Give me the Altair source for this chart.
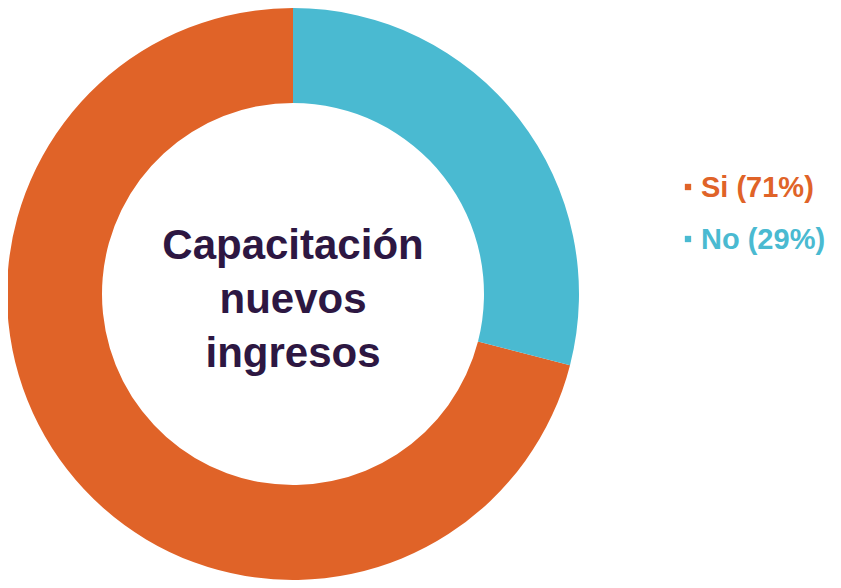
import altair as alt
import pandas as pd

categories = ["Si", "No"]
values = [71, 29]
colors = ["#E06328", "#4ABAD1"]
slice_order = [2, 1]  # "No" starts at 12 o'clock, clockwise
center_title = ["Capacitación", "nuevos", "ingresos"]

df = pd.DataFrame({"cat": categories, "value": values, "ord": slice_order})
df["label"] = [f"{c} ({v}%)" for c, v in zip(categories, values)]

color_scale = alt.Scale(domain=categories, range=colors)
cx, cy = 285, 286

donut = alt.Chart(df).mark_arc(outerRadius=286, innerRadius=191, stroke=None).encode(
    theta=alt.Theta("value:Q", stack=True),
    order=alt.Order("ord:Q"),
    color=alt.Color("cat:N", scale=color_scale, legend=None),
    x=alt.value(cx),
    y=alt.value(cy),
)

title_df = pd.DataFrame({"t": [center_title]})
center = alt.Chart(title_df).mark_text(
    font="Liberation Sans", fontWeight="bold", fontSize=42, color="#2D1742",
    align="center", baseline="middle", lineHeight=54,
).encode(text="t", x=alt.value(cx), y=alt.value(238))

ypos = alt.Y("cat:N", scale=alt.Scale(type="point", domain=categories, range=[179, 231], padding=0), axis=None)

leg_sq = alt.Chart(df).mark_square(size=40, opacity=1).encode(
    x=alt.value(680), y=ypos,
    color=alt.Color("cat:N", scale=color_scale, legend=None),
)
leg_txt = alt.Chart(df).mark_text(
    font="Liberation Sans", fontWeight="bold", fontSize=29, align="left", baseline="middle", dy=1,
).encode(
    x=alt.value(693), y=ypos, text="label:N",
    color=alt.Color("cat:N", scale=color_scale, legend=None),
)

chart = alt.layer(donut, center, leg_sq, leg_txt).resolve_scale(y="independent").properties(
    width=825, height=572, padding=0, autosize=alt.AutoSizeParams(type="none"),
).configure_view(stroke=None)

chart.save("out.html", embed_options={"renderer": "svg", "actions": False})
